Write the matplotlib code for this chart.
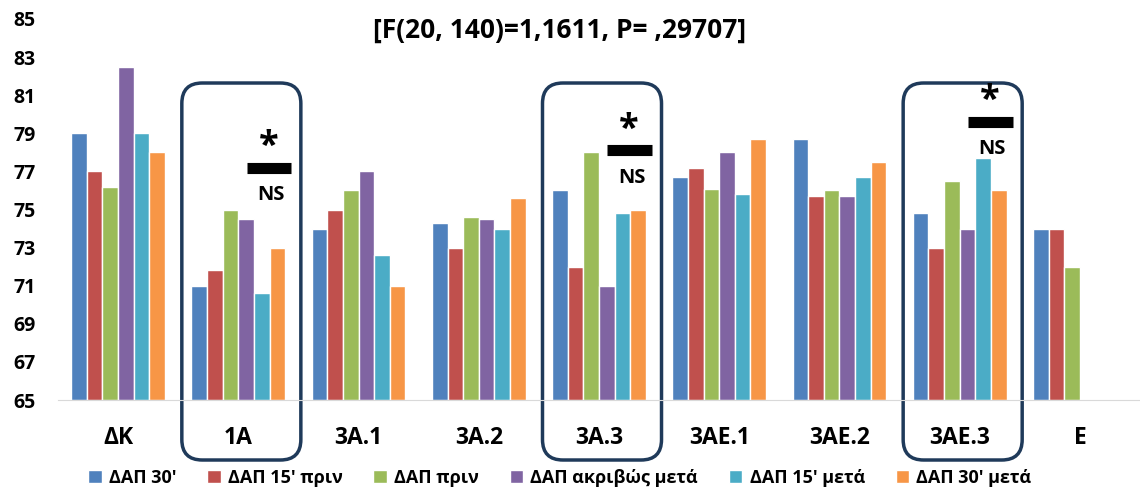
import matplotlib.pyplot as plt
from matplotlib.patches import FancyBboxPatch
import numpy as np

plt.rcParams['font.family'] = ['Open Sans', 'DejaVu Sans']
plt.rcParams['font.weight'] = 'bold'

# data
groups = ["ΔΚ", "1A", "3A.1", "3A.2", "3A.3", "3AE.1", "3AE.2", "3AE.3", "E"]
series = ["ΔΑΠ 30'", "ΔΑΠ 15' πριν", "ΔΑΠ πριν", "ΔΑΠ ακριβώς μετά", "ΔΑΠ 15' μετά", "ΔΑΠ 30' μετά"]
dap_30 = [79.0, 71.0, 74.0, 74.3, 76.0, 76.7, 78.7, 74.8, 74.0]
dap_15_prin = [77.0, 71.8, 75.0, 73.0, 72.0, 77.2, 75.7, 73.0, 74.0]
dap_prin = [76.2, 75.0, 76.0, 74.6, 78.0, 76.1, 76.0, 76.5, 72.0]
dap_akrivos = [82.5, 74.5, 77.0, 74.5, 71.0, 78.0, 75.7, 74.0, np.nan]
dap_15_meta = [79.0, 70.6, 72.6, 74.0, 74.8, 75.8, 76.7, 77.7, np.nan]
dap_30_meta = [78.0, 73.0, 71.0, 75.6, 75.0, 78.7, 77.5, 76.0, np.nan]
values = [dap_30, dap_15_prin, dap_prin, dap_akrivos, dap_15_meta, dap_30_meta]
colors = ["#4F81BD", "#C0504D", "#9BBB59", "#8064A2", "#4BACC6", "#F79646"]

boxed = [1, 4, 7]          # groups with a rounded frame
sig_bar_y = [77.2, 78.1, 79.6]  # height of the black bar per boxed group

fig = plt.figure(figsize=(11.4, 4.91), dpi=100)
ax = fig.add_axes([58 / 1140, 91 / 491, 1082 / 1140, 381 / 491])

x = np.arange(len(groups))
w = 0.13
base = 65
for i, (vals, col, lab) in enumerate(zip(values, colors, series)):
    v = np.array(vals)
    ax.bar(x + (i - 2.5) * w, v - base, bottom=base, width=w, color=col,
           edgecolor="white", linewidth=1, label=lab)

ax.set_xlim(-0.5, 8.5)
ax.set_ylim(65, 85)
ax.set_yticks(range(65, 86, 2))
ax.set_xticks(x)
ax.set_xticklabels(groups)
ax.tick_params(axis='y', length=0, pad=16, labelsize=14)
ax.tick_params(axis='x', length=0, pad=19, labelsize=16.5)
for s in ["left", "right", "top"]:
    ax.spines[s].set_visible(False)
ax.spines["bottom"].set_color("#D9D9D9")

fig.text(560 / 1140, 1 - 30 / 491, "[F(20, 140)=1,1611, P= ,29707]",
         ha="center", va="center", fontsize=19, fontweight="bold")

# rounded frames and markers
px_x = 1.0 / 120.2
px_y = 20.0 / 381
for g, by in zip(boxed, sig_bar_y):
    box = FancyBboxPatch((g - 0.47, 61.85), 0.99, 81.64 - 61.85,
                         boxstyle="round,pad=0,rounding_size=0.17",
                         mutation_aspect=px_y / px_x,
                         fill=False, edgecolor="#1F3A5A", linewidth=2.5,
                         clip_on=False, transform=ax.transData)
    ax.add_patch(box)
    ax.plot([g + 0.07, g + 0.44], [by, by], color="black", linewidth=8,
            solid_capstyle="butt", clip_on=False)
    ax.text(g + 0.25, by + 1.1, "*", ha="center", va="center", fontsize=26, fontweight="bold")
    ax.text(g + 0.27, by - 1.45, "NS", ha="center", va="center", fontsize=14.5, fontweight="bold")

fig.legend(loc="center", bbox_to_anchor=(0.491, 0.027), ncol=6, frameon=False,
           fontsize=13, handlelength=0.75, handleheight=0.75, handletextpad=0.4,
           columnspacing=1.7, borderpad=0)

fig.savefig("out.png", dpi=100)
